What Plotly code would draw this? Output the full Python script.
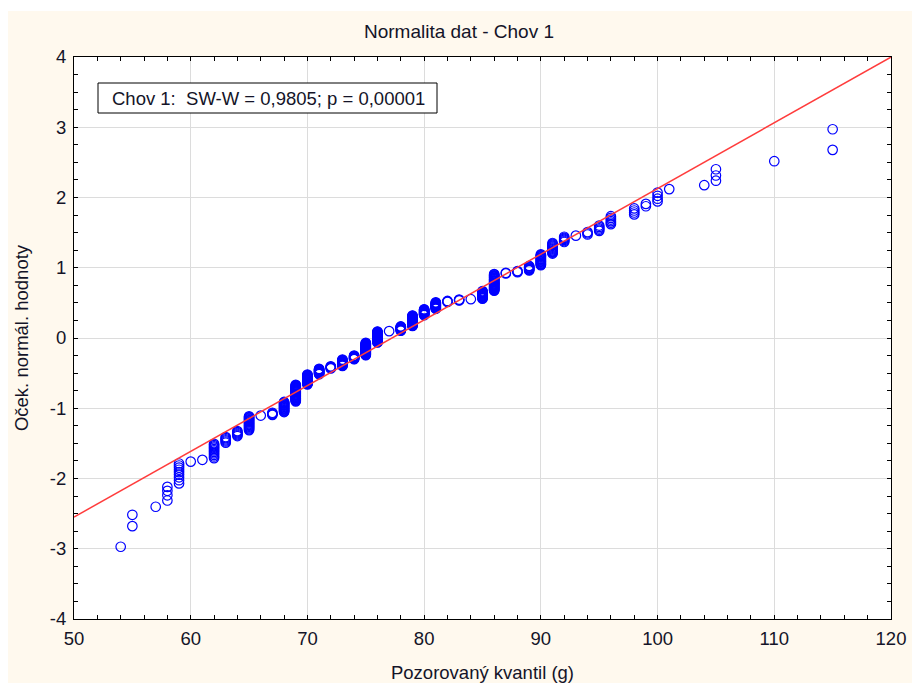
import numpy as np
import plotly.graph_objects as go
from statistics import NormalDist

weights = [54, 55, 57, 58, 59, 60, 61, 62, 63, 64, 65, 66, 67, 68, 69, 70, 71, 72, 73, 74,
           75, 76, 77, 78, 79, 80, 81, 82, 83, 84, 85, 86, 87, 88, 89, 90, 91, 92, 93, 94,
           95, 96, 98, 99, 100, 101, 104, 105, 110, 115]
counts = [1, 2, 1, 4, 9, 1, 1, 11, 6, 6, 18, 1, 4, 17, 32, 22, 13, 6, 16, 10,
          32, 29, 1, 12, 27, 15, 16, 3, 3, 1, 17, 32, 2, 3, 8, 16, 13, 6, 1, 3,
          5, 6, 4, 2, 4, 1, 1, 3, 1, 2]

# reference normal line (mean, SD)
line_mean = 77.25
line_sd = 10.69

x_range = [50, 120]
y_range = [-4, 4]
x_ticks = [50, 60, 70, 80, 90, 100, 110, 120]
x_ticktext = ["50", "60", "70", "80", "90", "100", "110", "120"]
y_ticks = [-4, -3, -2, -1, 0, 1, 2, 3, 4]
y_ticktext = ["-4", "-3", "-2", "-1", "0", "1", "2", "3", "4"]

title_text = "Normalita dat - Chov 1"
x_title = "Pozorovaný kvantil (g)"
y_title = "Oček. normál. hodnoty"
stat_text = "Chov 1:  SW-W = 0,9805; p = 0,00001"

# ---- normal probability plot: expected normal scores of the ordered sample, (3i-1)/(3n+1)
obs = np.repeat(np.array(weights, dtype=float), counts)
n = len(obs)
nd = NormalDist()
exp_norm = np.array([nd.inv_cdf((3 * i - 1) / (3 * n + 1)) for i in range(1, n + 1)])

line_x = np.array(x_range, dtype=float)
line_y = (line_x - line_mean) / line_sd

FONT = "Liberation Sans, Arial, sans-serif"
TXT = "#141428"
W, H = 912, 683
L, R, T, B = 74, 21, 57, 64
pw, ph = W - L - R, H - T - B

def px(xp):
    return (xp - L) / pw

def py(yp):
    return (H - B - yp) / ph

fig = go.Figure()
fig.add_trace(go.Scatter(
    x=obs, y=exp_norm, mode="markers",
    marker=dict(symbol="circle-open", size=9.5, color="#0000FF",
                line=dict(width=1.2, color="#0000FF")),
    showlegend=False, hoverinfo="x+y"))
fig.add_trace(go.Scatter(
    x=line_x, y=line_y, mode="lines",
    line=dict(color="rgb(255,60,60)", width=1.5),
    showlegend=False, hoverinfo="skip"))

axis_common = dict(
    automargin=False,
    showgrid=True, gridcolor="#DCDCDC", gridwidth=1,
    showline=True, linecolor="#000000", linewidth=1, mirror="ticks",
    ticks="inside", ticklen=4, tickwidth=1, tickcolor="#000000",
    zeroline=False, tickfont=dict(family=FONT, size=18.5, color=TXT),
    tickmode="array",
)

fig.update_layout(
    width=W, height=H, autosize=False,
    margin=dict(l=L, r=R, t=T, b=B, pad=0, autoexpand=False),
    paper_bgcolor="#FFF9EE", plot_bgcolor="#FFFFFF",
    font=dict(family=FONT, color=TXT, size=18.5),
    title=dict(text=title_text, x=0.5 + 3 / W, xref="container", xanchor="center",
               y=1 - 31 / H, yref="container", yanchor="middle",
               font=dict(family=FONT, size=19, color=TXT)),
    xaxis=dict(axis_common, range=x_range, tickvals=x_ticks, ticktext=x_ticktext,
               ticklabelstandoff=3,
               minor=dict(dtick=2, tick0=50, ticks="inside", ticklen=4, tickcolor="#000000",
                          showgrid=False),
               title=dict(text=x_title, standoff=18,
                          font=dict(family=FONT, size=18.5, color=TXT))),
    yaxis=dict(axis_common, range=y_range, tickvals=y_ticks, ticktext=y_ticktext,
               ticklabelstandoff=3,
               minor=dict(dtick=0.25, tick0=-4, ticks="inside", ticklen=4, tickcolor="#000000",
                          showgrid=False),
               title=dict(text=y_title, standoff=16,
                          font=dict(family=FONT, size=18.5, color=TXT))),
    shapes=[
        dict(type="rect", xref="paper", yref="paper", x0=px(0), x1=px(W), y0=py(11), y1=py(0),
             fillcolor="#FFFFFF", line=dict(width=0), layer="below"),
        dict(type="rect", xref="paper", yref="paper", x0=px(0), x1=px(8), y0=py(H), y1=py(0),
             fillcolor="#FFFFFF", line=dict(width=0), layer="below"),
        dict(type="rect", xref="paper", yref="paper", x0=px(98), x1=px(437), y0=py(113), y1=py(83),
             fillcolor="#FFFFFF", line=dict(width=1, color="#000000"), layer="above"),
    ],
    annotations=[
        dict(text=stat_text, xref="paper", yref="paper", x=px(268), y=py(98),
             xanchor="center", yanchor="middle", showarrow=False,
             font=dict(family=FONT, size=18.5, color=TXT)),
    ],
)

fig.write_html("out.html")
